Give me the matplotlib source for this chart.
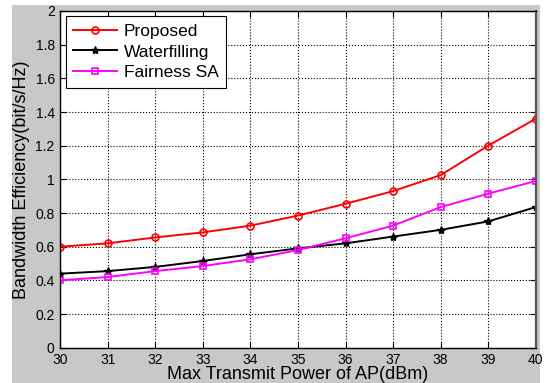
import matplotlib
matplotlib.use("Agg")
import matplotlib.pyplot as plt
from matplotlib.patches import Rectangle
import numpy as np

plt.rcParams['font.family'] = ['Liberation Sans', 'DejaVu Sans']

power_dbm = [30, 31, 32, 33, 34, 35, 36, 37, 38, 39, 40]
proposed = [0.60, 0.62, 0.655, 0.685, 0.725, 0.785, 0.855, 0.93, 1.025, 1.20, 1.36]
waterfilling = [0.44, 0.455, 0.48, 0.515, 0.555, 0.59, 0.62, 0.66, 0.70, 0.75, 0.835]
fairness_sa = [0.40, 0.42, 0.455, 0.485, 0.525, 0.58, 0.65, 0.725, 0.835, 0.915, 0.99]

fig = plt.figure(figsize=(5.48, 3.83), dpi=100)
fig.patch.set_facecolor('white')
# grey matlab-style backdrop, with a thin white margin left/top/right
fig.patches.append(Rectangle((12 / 548, 0), (540 - 12) / 548, 1 - 5 / 383,
                             transform=fig.transFigure, facecolor='#c8c8c8',
                             edgecolor='none', zorder=-10))

ax = fig.add_axes([60.3 / 548, 1 - 347.7 / 383, (535.7 - 60.3) / 548, (347.7 - 11) / 383])
ax.set_facecolor('white')

ax.plot(power_dbm, proposed, color='red', marker='o', mfc='none', ms=5, mew=1.2,
        lw=1.4, label='Proposed')
ax.plot(power_dbm, waterfilling, color='black', marker='*', ms=6, lw=1.4,
        label='Waterfilling')
ax.plot(power_dbm, fairness_sa, color='magenta', marker='s', mfc='none', ms=5, mew=1.2,
        lw=1.4, label='Fairness SA')

ax.set_xlim(30, 40)
ax.set_ylim(0, 2)
ax.set_xticks(np.arange(30, 41, 1))
ax.set_yticks(np.arange(0, 2.01, 0.2))
ax.set_yticklabels(['0', '0.2', '0.4', '0.6', '0.8', '1', '1.2', '1.4', '1.6', '1.8', '2'])
ax.grid(True, linestyle=':', color='black', linewidth=0.8)
ax.tick_params(direction='in', top=True, right=True, labelsize=10, length=4, pad=4)
for s in ax.spines.values():
    s.set_linewidth(1.0)
ax.spines['right'].set_color('#555555')
ax.spines['right'].set_linewidth(1.6)

ax.set_xlabel('Max Transmit Power of AP(dBm)', fontsize=13, labelpad=-1)
ax.set_ylabel('Bandwidth Efficiency(bit/s/Hz)', fontsize=13, labelpad=3.6)

leg = ax.legend(loc='upper left', fontsize=12.5, fancybox=False, framealpha=1,
                edgecolor='black', borderaxespad=0.3, handlelength=2.5,
                handletextpad=0.4, labelspacing=0.3, borderpad=0.45)
leg.get_frame().set_linewidth(0.8)

fig.savefig('out.png', dpi=100, facecolor=fig.get_facecolor())
